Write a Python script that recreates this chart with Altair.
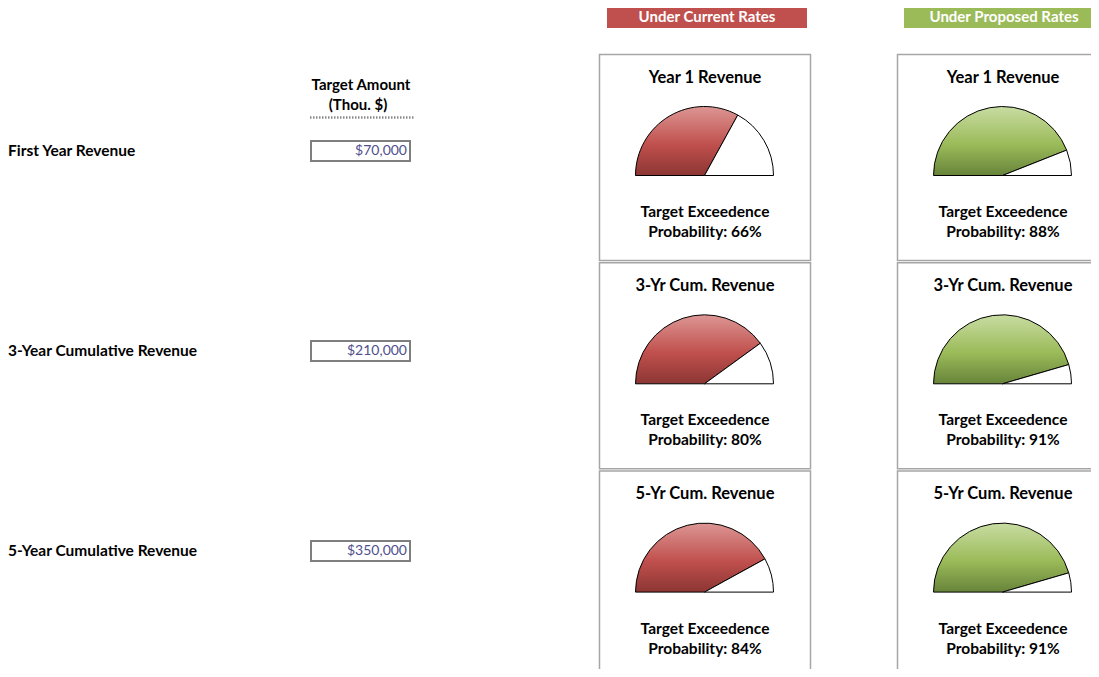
import math
import altair as alt
import pandas as pd

# ---------------- data ----------------
row_labels = ["First Year Revenue", "3-Year Cumulative Revenue", "5-Year Cumulative Revenue"]
target_amounts = [70000, 210000, 350000]
gauge_titles = ["Year 1 Revenue", "3-Yr Cum. Revenue", "5-Yr Cum. Revenue"]
scenario_names = ["Under Current Rates", "Under Proposed Rates"]
prob_current = [66, 80, 84]
prob_proposed = [88, 91, 91]
amount_header = ["Target Amount", "(Thou. $)"]
prob_caption = "Target Exceedence"

# ------------- layout (page pixels) -------------
W, H = 1083, 661
OX, OY = 8, 8
FONT = "Lato"
row_y0, row_step = 151, 200
label_x = 8
box_x0, box_x1, box_half_h = 311, 410, 10
amount_x = 407
panel_top0, panel_step, panel_h = 54.5, 208.3, 206
col_cx = [705, 1003]
panel_half_w = 105.5
gauge_dx, gauge_dy, gauge_r = -0.5, 121, 69
title_dy, cap1_dy, cap2_dy = 23, 157.5, 177.5
head_y0, head_y1, head_half_w, head_text_base = 4, 28, 100, 22
head_cx = [707, 1004]
col_main = ["#C0504D", "#9BBB59"]
grad_stops = [
    [("#DC9694", 0.0), ("#C0504D", 0.55), ("#8C3634", 1.0)],
    [("#C8DCA2", 0.0), ("#9BBB59", 0.55), ("#67843A", 1.0)],
]

XS = alt.Scale(domain=[OX, OX + W], nice=False, zero=False)
YS = alt.Scale(domain=[OY, OY + H], nice=False, zero=False, reverse=True)


def X(f):
    return alt.X(f"{f}:Q", scale=XS, axis=None)


def Y(f):
    return alt.Y(f"{f}:Q", scale=YS, axis=None)


# ------------- tables -------------
left_df = pd.DataFrame({"label": row_labels, "amount": target_amounts})
left_df["y"] = [row_y0 + row_step * i for i in range(len(row_labels))]
left_df["y0"] = left_df["y"] - box_half_h
left_df["y1"] = left_df["y"] + box_half_h
left_df["x"] = label_x
left_df["bx0"] = box_x0
left_df["bx1"] = box_x1
left_df["ax"] = amount_x

head_df = pd.DataFrame({"name": scenario_names, "cx": head_cx})
head_df["x0"] = head_df["cx"] - head_half_w
head_df["x1"] = head_df["cx"] + head_half_w
head_df["y0"] = head_y0
head_df["y1"] = head_y1
head_df["yb"] = head_text_base

amt_head_df = pd.DataFrame({"t": amount_header, "x": [361, 358], "y": [85, 105]})
underline_df = pd.DataFrame({"x0": [310], "x1": [415], "y": [117.5]})

recs = []
for s, probs in enumerate([prob_current, prob_proposed]):
    for r, p in enumerate(probs):
        top = panel_top0 + panel_step * r
        recs.append(dict(s=s, title=gauge_titles[r], prob=p,
                         cx=col_cx[s], x0=col_cx[s] - panel_half_w, x1=col_cx[s] + panel_half_w,
                         top=top, bot=top + panel_h,
                         ty=top + title_dy, gx=col_cx[s] + gauge_dx, gy=top + gauge_dy,
                         c1=top + cap1_dy, c2=top + cap2_dy, cap=prob_caption))
panel_df = pd.DataFrame(recs)

layers = []

# left column labels and input boxes
layers.append(alt.Chart(left_df).mark_text(font=FONT, fontWeight="bold", fontSize=15.5, align="left",
                                            baseline="middle", color="#000").encode(
    x=X("x"), y=Y("y"), text="label:N"))
layers.append(alt.Chart(left_df).mark_rect(fill="white", stroke="#7F7F7F", strokeWidth=2).encode(
    x=X("bx0"), x2="bx1:Q", y=Y("y0"), y2="y1:Q"))
layers.append(alt.Chart(left_df).mark_text(font=FONT, fontSize=14, align="right", baseline="middle",
                                            color="#4F4F8C").encode(
    x=X("ax"), y=Y("y"), text=alt.Text("amount:Q", format="$,")))
layers.append(alt.Chart(amt_head_df).mark_text(font=FONT, fontWeight="bold", fontSize=15, align="center",
                                                baseline="middle", color="#000").encode(
    x=X("x"), y=Y("y"), text="t:N"))
layers.append(alt.Chart(underline_df).mark_rule(color="#8C8C8C", strokeWidth=2.5, strokeDash=[1.5, 1.5]).encode(
    x=X("x0"), x2="x1:Q", y=Y("y")))

# scenario headers
layers.append(alt.Chart(head_df).mark_rect().encode(
    x=X("x0"), x2="x1:Q", y=Y("y0"), y2="y1:Q",
    color=alt.Color("name:N", scale=alt.Scale(domain=scenario_names, range=col_main), legend=None)))
layers.append(alt.Chart(head_df).mark_text(font=FONT, fontWeight="bold", fontSize=15, align="center",
                                            baseline="alphabetic", color="white").encode(
    x=X("cx"), y=Y("yb"), text="name:N"))

# panels
layers.append(alt.Chart(panel_df).mark_rect(fill="white", stroke="#A6A6A6", strokeWidth=1.5).encode(
    x=X("x0"), x2="x1:Q", y=Y("top"), y2="bot:Q"))
layers.append(alt.Chart(panel_df).mark_text(font=FONT, fontWeight="bold", fontSize=16.5, align="center",
                                             baseline="middle", color="#000").encode(
    x=X("cx"), y=Y("ty"), text="title:N"))
layers.append(alt.Chart(panel_df).mark_text(font=FONT, fontWeight="bold", fontSize=15.5, align="center",
                                             baseline="middle", color="#000").encode(
    x=X("cx"), y=Y("c1"), text="cap:N"))
layers.append(alt.Chart(panel_df).transform_calculate(
    ptxt="'Probability: ' + datum.prob + '%'").mark_text(
    font=FONT, fontWeight="bold", fontSize=15.5, align="center", baseline="middle", color="#000").encode(
    x=X("cx"), y=Y("c2"), text="ptxt:N"))

# gauges
for s in range(2):
    grad = alt.Gradient(gradient="linear",
                        stops=[alt.GradientStop(color=c, offset=o) for c, o in grad_stops[s]],
                        x1=0, x2=0, y1=0, y2=1)
    base = alt.Chart(panel_df).transform_filter(f"datum.s == {s}").transform_calculate(
        t0="-PI / 2", tm="-PI / 2 + PI * datum.prob / 100", t1="PI / 2")
    layers.append(base.mark_arc(outerRadius=gauge_r, fill=grad, stroke="black", strokeWidth=1).encode(
        x=X("gx"), y=Y("gy"), theta=alt.Theta("t0:Q", scale=None), theta2="tm:Q"))
    layers.append(base.mark_arc(outerRadius=gauge_r, fill="white", stroke="black", strokeWidth=1).encode(
        x=X("gx"), y=Y("gy"), theta=alt.Theta("tm:Q", scale=None), theta2="t1:Q"))

chart = alt.layer(*layers).properties(
    width=W, height=H, padding=0, autosize=alt.AutoSizeParams(type="none"),
    background="white",
).configure_view(stroke=None)

chart.save("out.html", embed_options={"renderer": "svg", "actions": False})
